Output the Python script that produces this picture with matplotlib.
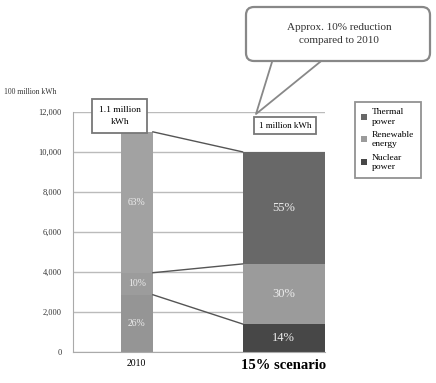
import matplotlib.pyplot as plt
import numpy as np
from matplotlib.patches import Patch, FancyBboxPatch

plt.rcParams['font.family'] = ['Liberation Serif', 'DejaVu Serif']

# generated power, 100 million kWh
cases = ['2010', '15% scenario']
totals = [11000, 10000]
sources = ['Thermal\npower', 'Renewable\nenergy', 'Nuclear\npower']
# shares stacked from the bottom: nuclear, renewable, thermal
nuclear = [26, 14]
renewable = [10, 30]
thermal = [63, 55]
total_labels = ['1.1 million\nkWh', '1 million kWh']
yticks = [0, 2000, 4000, 6000, 8000, 10000, 12000]

colors_2010 = ['#959595', '#9c9c9c', '#a2a2a2']
colors_15 = ['#474747', '#9b9b9b', '#686868']

fig = plt.figure(figsize=(4.36, 3.83), dpi=100)
ax = fig.add_axes([0.167, 0.081, 0.578, 0.627])

x = np.array([0, 1])
widths = [0.22, 0.56]

def seg_sizes(i):
    t = totals[i]
    n = t * nuclear[i] / 100
    r = t * renewable[i] / 100
    return n, r, t - n - r

for i in range(2):
    n, r, th = seg_sizes(i)
    cols = colors_2010 if i == 0 else colors_15
    fs = 7 if i == 0 else 9
    ax.bar(x[i], n, widths[i], color=cols[0], zorder=2)
    ax.bar(x[i], r, widths[i], bottom=n, color=cols[1], zorder=2)
    ax.bar(x[i], th, widths[i], bottom=n + r, color=cols[2], zorder=2)
    for val, mid in [(nuclear[i], n / 2), (renewable[i], n + r / 2),
                     (thermal[i], n + r + th / 2)]:
        ax.text(x[i], mid, f'{val}%', ha='center', va='center',
                color='#ececec', fontsize=fs, zorder=4)

# connector lines between the two bars
n0, r0, t0 = seg_sizes(0)
n1, r1, t1 = seg_sizes(1)
xl = x[0] + widths[0] / 2
xr = x[1] - widths[1] / 2
for y0, y1 in [(totals[0], totals[1]), (n0 + r0, n1 + r1), (n0, n1)]:
    ax.plot([xl, xr], [y0, y1], color='#555555', lw=1, zorder=3)

# total labels in boxes
ax.text(-0.115, 11800, total_labels[0], ha='center', va='center', fontsize=6.8,
        zorder=5, clip_on=False, linespacing=1.7,
        bbox=dict(boxstyle='square,pad=0.7', fc='white', ec='#777777', lw=1.3))
ax.text(1.01, 11300, total_labels[1], ha='center', va='center', fontsize=6.5,
        zorder=5, clip_on=False,
        bbox=dict(boxstyle='square,pad=0.5', fc='white', ec='#777777', lw=1.3))

ax.set_xlim(-0.435, 1.28)
ax.set_ylim(0, 12000)
ax.set_yticks(yticks)
ax.set_yticklabels([f'{v:,}' for v in yticks], fontsize=6, color='#333333')
ax.set_xticks(x)
ax.set_xticklabels(cases)
ax.get_xticklabels()[0].set_fontsize(7)
ax.get_xticklabels()[1].set_fontsize(10.5)
ax.get_xticklabels()[1].set_fontweight('bold')
ax.tick_params(axis='x', length=0, pad=5)
ax.tick_params(axis='y', length=0, pad=8)
ax.yaxis.grid(True, color='#bbbbbb', lw=1, zorder=0)
ax.set_axisbelow(True)
for s in ['top', 'right']:
    ax.spines[s].set_visible(False)
ax.spines['left'].set_color('#aaaaaa')
ax.spines['bottom'].set_color('#aaaaaa')

fig.text(4 / 436, 1 - 92 / 383, '100 million kWh', fontsize=5.5, va='center',
         color='#333333')

# speech bubble, drawn on a pixel-space overlay
over = fig.add_axes([0, 0, 1, 1], zorder=6)
over.set_xlim(0, 436)
over.set_ylim(383, 0)
over.axis('off')
over.plot([272, 256, 320], [62, 114, 62], color='#888888', lw=1.3)
over.add_patch(FancyBboxPatch((246, 7), 184, 54,
                              boxstyle='round,pad=0,rounding_size=8',
                              fc='white', ec='#888888', lw=1.6))
over.text(339, 34, 'Approx. 10% reduction\ncompared to 2010', ha='center',
          va='center', fontsize=8, color='#333333', linespacing=1.5)

handles = [Patch(fc=colors_15[2]), Patch(fc=colors_15[1]), Patch(fc=colors_15[0])]
leg = fig.legend(handles, sources, loc='upper left',
                 bbox_to_anchor=(350 / 436, 1 - 97 / 383), fontsize=6.8,
                 frameon=True, fancybox=False, handlelength=0.6,
                 handleheight=0.6, handletextpad=0.5, borderpad=0.7,
                 labelspacing=0.6)
leg.get_frame().set_edgecolor('#777777')
leg.get_frame().set_linewidth(1.3)

fig.savefig('out.png', dpi=100)
